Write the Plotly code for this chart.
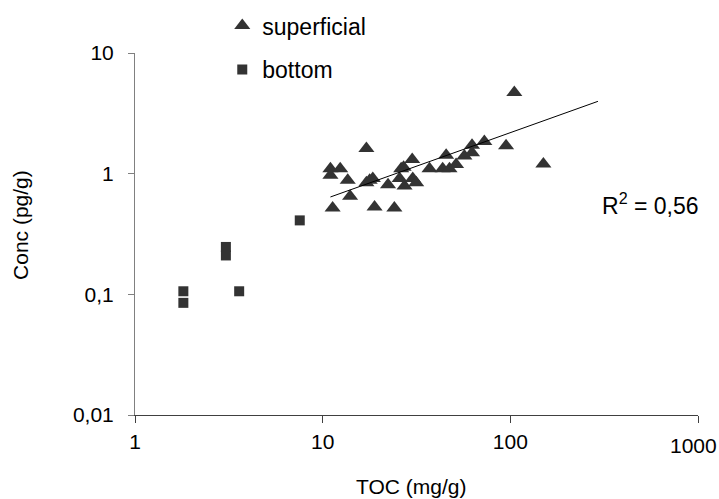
import numpy as np
import plotly.graph_objects as go

# superficial samples (TOC mg/g, Conc pg/g)
sup_toc = [11.0, 11.0, 12.4, 13.6, 14.0, 11.3, 17.1, 17.1, 17.8, 18.5, 18.9, 22.3,
           24.1, 25.7, 26.2, 27.0, 27.3, 30.0, 30.2, 31.5, 37.1, 43.6, 45.5, 47.4,
           51.4, 56.9, 62.5, 62.5, 72.7, 94.9, 105.0, 150.0]
sup_conc = [1.10, 0.97, 1.10, 0.88, 0.65, 0.52, 1.62, 0.84, 0.88, 0.91, 0.53, 0.81,
            0.52, 0.91, 1.10, 1.13, 0.79, 1.31, 0.91, 0.84, 1.10, 1.10, 1.42, 1.10,
            1.19, 1.40, 1.72, 1.49, 1.85, 1.70, 4.7, 1.2]

# bottom samples
bot_toc = [7.55, 3.05, 3.05, 1.81, 1.81, 3.59]
bot_conc = [0.41, 0.247, 0.21, 0.106, 0.085, 0.106]

# power trend line y = a * x^b
trend_a = 0.169
trend_b = 0.556
trend_x = [11.0, 293.0]
r2_text = "R<sup>2</sup> = 0,56"

x_tickvals = [1, 10, 100, 1000]
x_ticktext = ["1", "10", "100", "1000"]
y_tickvals = [0.01, 0.1, 1, 10]
y_ticktext = ["0,01", "0,1", "1", "10"]

FONT = "Liberation Sans, Arial, sans-serif"
MC = "#333333"

fig = go.Figure()
fig.add_trace(go.Scatter(
    x=sup_toc, y=sup_conc, mode="markers", name="superficial",
    legendgroup="a",
    marker=dict(symbol="triangle-up", size=14, color=MC)))
fig.add_trace(go.Scatter(
    x=bot_toc, y=bot_conc, mode="markers", name="bottom",
    legendgroup="b",
    marker=dict(symbol="square", size=10, color=MC)))
tx = np.array(trend_x)
fig.add_trace(go.Scatter(
    x=tx, y=trend_a * tx ** trend_b, mode="lines", showlegend=False,
    line=dict(color="black", width=1)))

# last x tick label sits at the page edge: draw it as a right-anchored annotation
axis_ticktext = x_ticktext[:-1] + [""]

fig.update_layout(
    width=719, height=499,
    margin=dict(l=135, r=21, t=53, b=84, autoexpand=False),
    paper_bgcolor="white", plot_bgcolor="white",
    font=dict(family=FONT, size=21, color="black"),
    showlegend=True,
    legend=dict(x=0.155, y=1.135, xanchor="left", yanchor="top",
                font=dict(size=23), tracegroupgap=11,
                bgcolor="rgba(0,0,0,0)"),
    xaxis=dict(type="log", range=[0, 3], tickvals=x_tickvals, ticktext=axis_ticktext,
               showgrid=False, zeroline=False, showline=True,
               linecolor="#404040", linewidth=1, ticks="outside", ticklen=7,
               tickcolor="#404040", tickfont=dict(size=21), ticklabelstandoff=1),
    yaxis=dict(type="log", range=[-2, 1], tickvals=y_tickvals, ticktext=y_ticktext,
               showgrid=False, zeroline=False, showline=True,
               linecolor="#808080", linewidth=1, ticks="outside", ticklen=6,
               tickcolor="#808080", tickfont=dict(size=21), ticklabelstandoff=10),
    annotations=[
        dict(text=x_ticktext[-1], xref="x", yref="paper", x=np.log10(x_tickvals[-1]),
             y=0, yshift=-30, xshift=21, showarrow=False, font=dict(size=21),
             xanchor="right", yanchor="middle"),
        dict(text="TOC (mg/g)", xref="paper", yref="paper", x=0.49, y=-0.197,
             showarrow=False, font=dict(size=21), xanchor="center", yanchor="middle"),
        dict(text="Conc (pg/g)", xref="paper", yref="paper", x=-0.2025, y=0.525,
             textangle=-90, showarrow=False, font=dict(size=21),
             xanchor="center", yanchor="middle"),
        dict(text=r2_text, xref="paper", yref="paper", x=0.9165, y=0.584,
             showarrow=False, font=dict(size=23), xanchor="center", yanchor="middle"),
    ],
)

fig.write_html("out.html", config={"displayModeBar": False},
               post_script="document.body.style.margin='0px';")
